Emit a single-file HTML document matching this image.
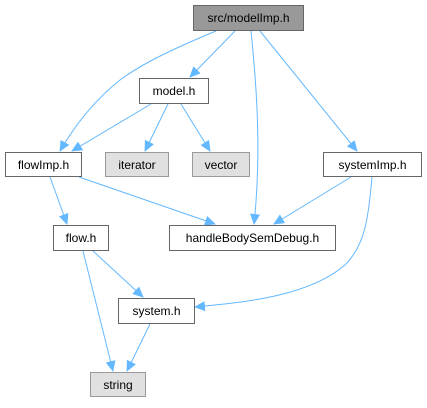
<!DOCTYPE html>
<html><head><style>
body{margin:0;background:#fff;}
svg text{font-family:"Liberation Sans",sans-serif;font-size:12px;fill:#000;}
</style></head><body>
<svg width="427" height="403" viewBox="0 0 427 403" xmlns="http://www.w3.org/2000/svg">
<defs><marker id="a" markerWidth="11" markerHeight="10" refX="10" refY="5" orient="auto" markerUnits="userSpaceOnUse"><path d="M0,0 L11,5 L0,10 z" fill="#63b8ff"/></marker></defs>
<g fill="none" stroke="#63b8ff" stroke-width="1" marker-end="url(#a)">
<path d="M216,31 C170,50 140,65 120,80 C95,100 75,125 60,151"/>
<path d="M235,31 L190,77"/>
<path d="M251,31 C256,80 262,150 254,224"/>
<path d="M260,31 L357,151"/>
<path d="M151,104 L72,151"/>
<path d="M168,104 L145,151"/>
<path d="M181,104 L210,151"/>
<path d="M50,177 L67,224"/>
<path d="M79,177 L215,224"/>
<path d="M351,177 L274,224"/>
<path d="M372,177 C368,220 365,245 345,265 C310,295 250,302 195,307"/>
<path d="M93,251 L143,297"/>
<path d="M83,251 L113,371"/>
<path d="M150,324 L127,371"/>
</g>
<g stroke-width="1">
<rect x="193.5" y="5.5" width="110" height="25" fill="#999" stroke="#666"/>
<rect x="139.5" y="78.5" width="69" height="25" fill="#fff" stroke="#666"/>
<rect x="5.5" y="152.5" width="76" height="24" fill="#fff" stroke="#666"/>
<rect x="105.5" y="152.5" width="63" height="24" fill="#e0e0e0" stroke="#999"/>
<rect x="192.5" y="152.5" width="57" height="24" fill="#e0e0e0" stroke="#999"/>
<rect x="323.5" y="152.5" width="98" height="24" fill="#fff" stroke="#666"/>
<rect x="53.5" y="225.5" width="55" height="25" fill="#fff" stroke="#666"/>
<rect x="169.5" y="225.5" width="166" height="25" fill="#fff" stroke="#666"/>
<rect x="118.5" y="298.5" width="76" height="25" fill="#fff" stroke="#666"/>
<rect x="90.5" y="372.5" width="55" height="24" fill="#e0e0e0" stroke="#999"/>
</g>
<g text-anchor="middle">
<text x="248.5" y="22">src/modelImp.h</text>
<text x="174" y="95">model.h</text>
<text x="43.5" y="169">flowImp.h</text>
<text x="137" y="169">iterator</text>
<text x="221" y="169">vector</text>
<text x="372.5" y="169">systemImp.h</text>
<text x="81" y="242">flow.h</text>
<text x="252.5" y="242">handleBodySemDebug.h</text>
<text x="156.5" y="315">system.h</text>
<text x="118" y="389">string</text>
</g>
</svg>
</body></html>
